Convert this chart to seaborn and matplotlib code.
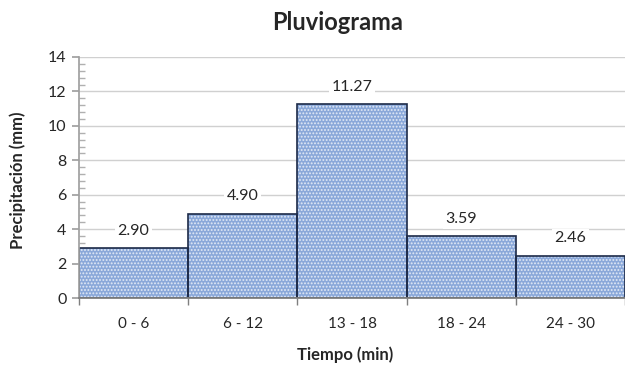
import matplotlib
matplotlib.use("Agg")
import matplotlib.pyplot as plt
import seaborn as sns
import pandas as pd
import numpy as np
from matplotlib.ticker import MultipleLocator, FixedLocator

categories = ["0 - 6", "6 - 12", "13 - 18", "18 - 24", "24 - 30"]
values = [2.90, 4.90, 11.27, 3.59, 2.46]
yticks = [0, 2, 4, 6, 8, 10, 12, 14]

sns.set_theme(style="white")
plt.rcParams['font.family'] = ['Lato', 'DejaVu Sans']
plt.rcParams['hatch.linewidth'] = 0.9

df = pd.DataFrame({"cat": categories, "val": values})

fig = plt.figure(figsize=(6.25, 3.66), dpi=100)
ax = fig.add_axes([79/625, 1-298/366, (625-79)/625, (298-57)/366])

sns.barplot(data=df, x="cat", y="val", ax=ax, width=1.0, color="#8aa8d9",
            saturation=1, edgecolor="#e3eaf6", linewidth=0, hatch=".....")
sns.barplot(data=df, x="cat", y="val", ax=ax, width=1.0, fill=False,
            edgecolor="#1c2a48", linewidth=1.2)

ax.set_ylim(0, 14)
ax.set_xlim(-0.5, 4.5)
ax.set_yticks(yticks)
ax.yaxis.set_minor_locator(MultipleLocator(0.4))
ax.grid(axis="y", color="#d0d0d0", linewidth=1, zorder=0)
ax.set_axisbelow(True)

for s in ["top", "right"]:
    ax.spines[s].set_visible(False)
ax.spines["left"].set_color("#a0a0a0")
ax.spines["bottom"].set_color("#7f7f7f")
ax.spines["bottom"].set_linewidth(1.3)

ax.tick_params(axis="y", which="major", length=5, color="#a0a0a0", direction="out",
               labelsize=11.5, labelcolor="#262626", left=True, pad=4)
ax.tick_params(axis="y", which="minor", length=4, color="#b0b0b0", direction="in", left=True)
ax.tick_params(axis="x", which="major", length=0, labelsize=11, labelcolor="#262626", pad=14)
ax.xaxis.set_minor_locator(FixedLocator([-0.5, 0.5, 1.5, 2.5, 3.5, 4.5]))
ax.tick_params(axis="x", which="minor", length=5, color="#7f7f7f", direction="out", bottom=True)

for i, v in enumerate(values):
    ax.text(i, v + 1.0, f"{v:.2f}", ha="center", va="center", fontsize=11.5, color="#262626",
            bbox=dict(facecolor="white", edgecolor="none", pad=2))

ax.set_xlabel("")
ax.set_ylabel("")
fig.text(18/625, 1-180/366, "Precipitación (mm)", rotation=90, ha="center", va="center",
         fontsize=12, fontweight="bold", color="#262626")
fig.text(345/625, 1-355/366, "Tiempo (min)", ha="center", va="center",
         fontsize=12, fontweight="bold", color="#262626")
fig.text(338/625, 1-22/366, "Pluviograma", ha="center", va="center",
         fontsize=17, fontweight="bold", color="#262626")

fig.savefig("out.png", dpi=100)
